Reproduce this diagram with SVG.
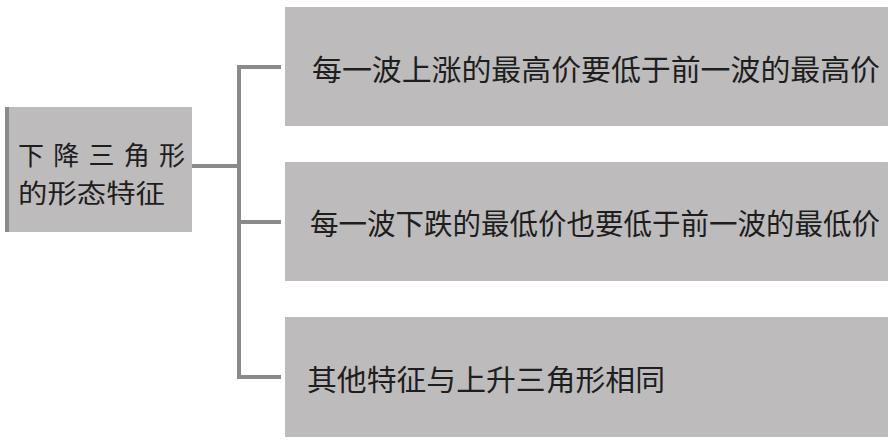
<svg xmlns="http://www.w3.org/2000/svg" width="891" height="441" viewBox="0 0 891 441">
<style>
.box{fill:#bdbbbc;}
.t{font-family:"Noto Sans CJK SC","Noto Sans CJK JP",sans-serif;font-size:29px;fill:#1e1e1e;dominant-baseline:central;}
.s{font-size:26px;}
.c{stroke:#8a8a8a;stroke-width:4;fill:none;}
</style>
<rect width="891" height="441" fill="#ffffff"/>
<g id="root">
<rect class="box" x="5" y="107" width="187" height="125"/>
<rect x="5" y="107" width="4" height="125" fill="#8a8a8a"/>
<text class="t s" x="18" y="153" textLength="167" lengthAdjust="spacing">下降三角形</text>
<text class="t s" x="18" y="191" textLength="147" lengthAdjust="spacingAndGlyphs">的形态特征</text>
</g>
<g id="n1">
<rect class="box" x="285" y="7" width="603" height="119"/>
<text class="t" x="312" y="68" textLength="568" lengthAdjust="spacingAndGlyphs">每一波上涨的最高价要低于前一波的最高价</text>
</g>
<g id="n2">
<rect class="box" x="285" y="162" width="603" height="119"/>
<text class="t" x="310" y="222" textLength="570" lengthAdjust="spacingAndGlyphs">每一波下跌的最低价也要低于前一波的最低价</text>
</g>
<g id="n3">
<rect class="box" x="285" y="317" width="603" height="120"/>
<text class="t" x="307" y="378" textLength="358" lengthAdjust="spacingAndGlyphs">其他特征与上升三角形相同</text>
</g>
<g id="connectors">
<path class="c" d="M192 166 H239"/>
<path class="c" d="M239 67 V377"/>
<path class="c" d="M237 67 H281"/>
<path class="c" d="M239 222 H281"/>
<path class="c" d="M237 377 H281"/>
</g>
</svg>
